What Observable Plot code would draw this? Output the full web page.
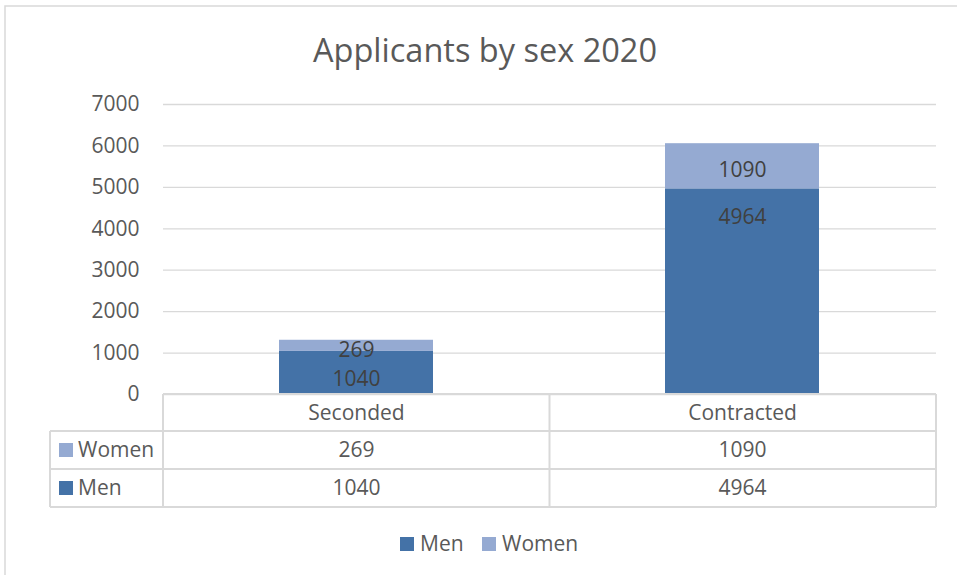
<!DOCTYPE html>
<html><head><meta charset="utf-8">
<script src="https://cdn.jsdelivr.net/npm/d3@7"></script>
<script src="https://cdn.jsdelivr.net/npm/@observablehq/plot@0.6"></script>
<style>body{margin:0;background:#fff;}</style>
</head><body><div id="chart"></div>
<script>
const title = "Applicants by sex 2020";
const categories = ["Seconded", "Contracted"];
const series = ["Men", "Women"];
const men = [1040, 4964];
const women = [269, 1090];
const colors = ["#4472a7", "#95aad2"];
const yTicks = [0, 1000, 2000, 3000, 4000, 5000, 6000, 7000];

const data = categories.flatMap((c, i) => [
  {category: c, sex: "Men", value: men[i]},
  {category: c, sex: "Women", value: women[i]}
]);

const FONT = "'Open Sans', sans-serif";
const FS = 21;
const GRID = "#d9d9d9";
const TXT = "#595959";

function tableAndLegend(index, scales, values, dim) {
  const g = d3.create("svg:g");
  const L = dim.marginLeft, R = dim.width - dim.marginRight, B = dim.height - dim.marginBottom;
  const n = categories.length;
  const step = (R - L) / n;
  const rows = [B, B + 37, B + 75, B + 113];
  const left = 50;
  // outer chart border
  g.append("path").attr("d", `M5,${dim.height + 10}V6H${dim.width + 10}`)
    .attr("fill", "none").attr("stroke", GRID).attr("stroke-width", 1.5);
  // horizontal table lines
  g.append("line").attr("x1", L).attr("x2", R).attr("y1", rows[0]).attr("y2", rows[0]);
  for (let r = 1; r < rows.length; r++)
    g.append("line").attr("x1", left).attr("x2", R).attr("y1", rows[r]).attr("y2", rows[r]);
  // vertical lines
  for (let k = 0; k <= n; k++)
    g.append("line").attr("x1", L + k * step).attr("x2", L + k * step).attr("y1", rows[0]).attr("y2", rows[3]);
  g.append("line").attr("x1", left).attr("x2", left).attr("y1", rows[1]).attr("y2", rows[3]);
  g.selectAll("line").attr("stroke", GRID).attr("stroke-width", 2);
  // table row keys (Women row first, then Men)
  const rowSeries = [1, 0];
  rowSeries.forEach((s, r) => {
    const cy = (rows[r + 1] + rows[r + 2]) / 2;
    g.append("rect").attr("x", 59).attr("y", cy - 7).attr("width", 14).attr("height", 14).attr("fill", colors[s]);
    g.append("text").attr("x", 78).attr("y", cy).attr("dy", "0.35em").attr("text-anchor", "start")
      .attr("fill", TXT).attr("font-size", FS).attr("font-family", FONT).text(series[s]);
  });
  // bottom legend
  const legX = [400, 482];
  series.forEach((s, i) => {
    g.append("rect").attr("x", legX[i]).attr("y", 537).attr("width", 14).attr("height", 14).attr("fill", colors[i]);
    g.append("text").attr("x", legX[i] + 20).attr("y", 544).attr("dy", "0.35em").attr("text-anchor", "start")
      .attr("fill", TXT).attr("font-size", FS).attr("font-family", FONT).text(s);
  });
  return g.node();
}

const chart = Plot.plot({
  width: 957,
  height: 575,
  marginTop: 104,
  marginRight: 21,
  marginBottom: 181,
  marginLeft: 163,
  style: {fontFamily: FONT, fontSize: FS + "px", color: TXT, background: "#fff"},
  x: {domain: categories, paddingInner: 0.6, paddingOuter: 0.3, axis: null},
  y: {domain: [0, 7000], axis: null},
  color: {domain: series, range: colors},
  marks: [
    Plot.gridY(yTicks, {stroke: GRID, strokeOpacity: 1, strokeWidth: 1.3}),
    Plot.axisY(yTicks, {tickSize: 0, tickPadding: 24, label: null, fill: TXT, fontSize: FS, tickFormat: d => String(d)}),
    Plot.barY(data, {x: "category", y: "value", fill: "sex"}),
    Plot.text(categories, {x: d => d, y: (d, i) => men[i], text: (d, i) => String(men[i]), dy: 28, fill: "#404040", fontSize: FS}),
    Plot.text(categories, {x: d => d, y: (d, i) => men[i] + women[i] / 2, text: (d, i) => String(women[i]), dy: 4, fill: "#404040", fontSize: FS}),
    tableAndLegend,
    Plot.text(categories, {x: d => d, text: d => d, frameAnchor: "bottom", lineAnchor: "middle", dy: 19, fill: TXT, fontSize: FS}),
    Plot.text(categories, {x: d => d, text: (d, i) => String(women[i]), frameAnchor: "bottom", lineAnchor: "middle", dy: 56, fill: TXT, fontSize: FS}),
    Plot.text(categories, {x: d => d, text: (d, i) => String(men[i]), frameAnchor: "bottom", lineAnchor: "middle", dy: 94, fill: TXT, fontSize: FS}),
    Plot.text([title], {text: d => d, frameAnchor: "top", lineAnchor: "middle", dx: -65, dy: -53, fill: TXT, fontSize: 32.5})
  ]
});
document.getElementById("chart").appendChild(chart);
</script>
</body></html>
